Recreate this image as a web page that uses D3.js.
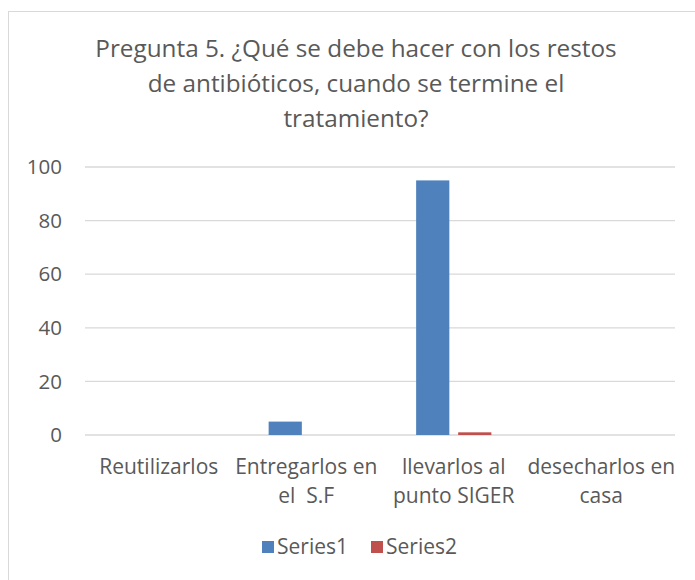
<!DOCTYPE html>
<html>
<head>
<meta charset="utf-8">
<script src="https://cdn.jsdelivr.net/npm/d3@7"></script>
<style>
  body { margin: 0; background: #fff; }
  text { font-family: "Open Sans", sans-serif; fill: #595959; white-space: pre; }
</style>
</head>
<body>
<div id="winArea"></div>
<script>
// chart data
const categories = ["Reutilizarlos", "Entregarlos en el  S.F", "llevarlos al punto SIGER", "desecharlos en casa"];
const categoryLines = [["Reutilizarlos"], ["Entregarlos en", "el  S.F"], ["llevarlos al", "punto SIGER"], ["desecharlos en", "casa"]];
const seriesNames = ["Series1", "Series2"];
const series1 = [0, 5, 95, 0];
const series2 = [0, 0, 1, 0];
const yTicks = [0, 20, 40, 60, 80, 100];
const titleLines = ["Pregunta 5. ¿Qué se debe hacer con los restos", "de antibióticos, cuando se termine el", "tratamiento?"];

const width = 695, height = 580;
const colors = ["#4f81bd", "#c0504d"];

const svg = d3.select("#winArea")
    .append("svg")
    .attr("width", width)
    .attr("height", height);

//chart border
svg.append("rect")
    .attr("x", 8.5).attr("y", 11.5)
    .attr("width", 700).attr("height", 600)
    .attr("fill", "#fff")
    .attr("stroke", "#d9d9d9");

//title
svg.append("g").selectAll("text")
    .data(titleLines)
    .join("text")
    .attr("x", 356)
    .attr("y", (d, i) => 57 + i * 35)
    .attr("text-anchor", "middle")
    .style("font-size", "24.3px")
    .text(d => d);

//scales
const x0 = d3.scaleBand()
    .domain(categories)
    .range([85, 675])
    .paddingInner(0.49)
    .paddingOuter(0.245);

const x1 = d3.scaleBand()
    .domain(seriesNames)
    .range([0, x0.bandwidth()])
    .paddingInner(0.21);

const yScale = d3.scaleLinear()
    .domain([0, 100])
    .range([435, 167]);

//gridlines
svg.append("g").selectAll("line")
    .data(yTicks)
    .join("line")
    .attr("x1", 85).attr("x2", 675)
    .attr("y1", d => yScale(d)).attr("y2", d => yScale(d))
    .attr("stroke", "#d9d9d9")
    .attr("stroke-width", 1.3);

//y axis labels
svg.append("g").selectAll("text")
    .data(yTicks)
    .join("text")
    .attr("x", 62)
    .attr("y", d => yScale(d))
    .attr("dy", "0.35em")
    .attr("text-anchor", "end")
    .style("font-size", "20.5px")
    .text(d => d);

//bars
const rows = categories.map((c, i) => ({ cat: c, values: [series1[i], series2[i]] }));
svg.append("g").selectAll("g")
    .data(rows)
    .join("g")
    .attr("transform", d => `translate(${x0(d.cat)},0)`)
    .selectAll("rect")
    .data(d => d.values.map((v, j) => ({ key: seriesNames[j], value: v, j })))
    .join("rect")
    .filter(d => d.value > 0)
    .attr("x", d => x1(d.key))
    .attr("width", x1.bandwidth())
    .attr("y", d => yScale(d.value))
    .attr("height", d => yScale(0) - yScale(d.value))
    .attr("fill", d => colors[d.j]);

//category labels
const catG = svg.append("g").selectAll("text")
    .data(categories)
    .join("text")
    .attr("x", d => x0(d) + x0.bandwidth() / 2)
    .attr("y", 474)
    .attr("text-anchor", "middle")
    .style("font-size", "21px");

catG.selectAll("tspan")
    .data((d, i) => categoryLines[i])
    .join("tspan")
    .attr("x", function () { return d3.select(this.parentNode).attr("x"); })
    .attr("dy", (d, i) => i === 0 ? 0 : 29)
    .text(d => d);

//legend
const legend = svg.append("g")
    .attr("transform", "translate(262, 541)");

const legendItem = legend.selectAll("g")
    .data(seriesNames)
    .join("g")
    .attr("transform", (d, i) => `translate(${i * 109}, 0)`);

legendItem.append("rect")
    .attr("width", 12)
    .attr("height", 12)
    .attr("fill", (d, i) => colors[i]);

legendItem.append("text")
    .attr("x", 15)
    .attr("y", 6)
    .attr("dy", "0.35em")
    .style("font-size", "21px")
    .text(d => d);
</script>
</body>
</html>
